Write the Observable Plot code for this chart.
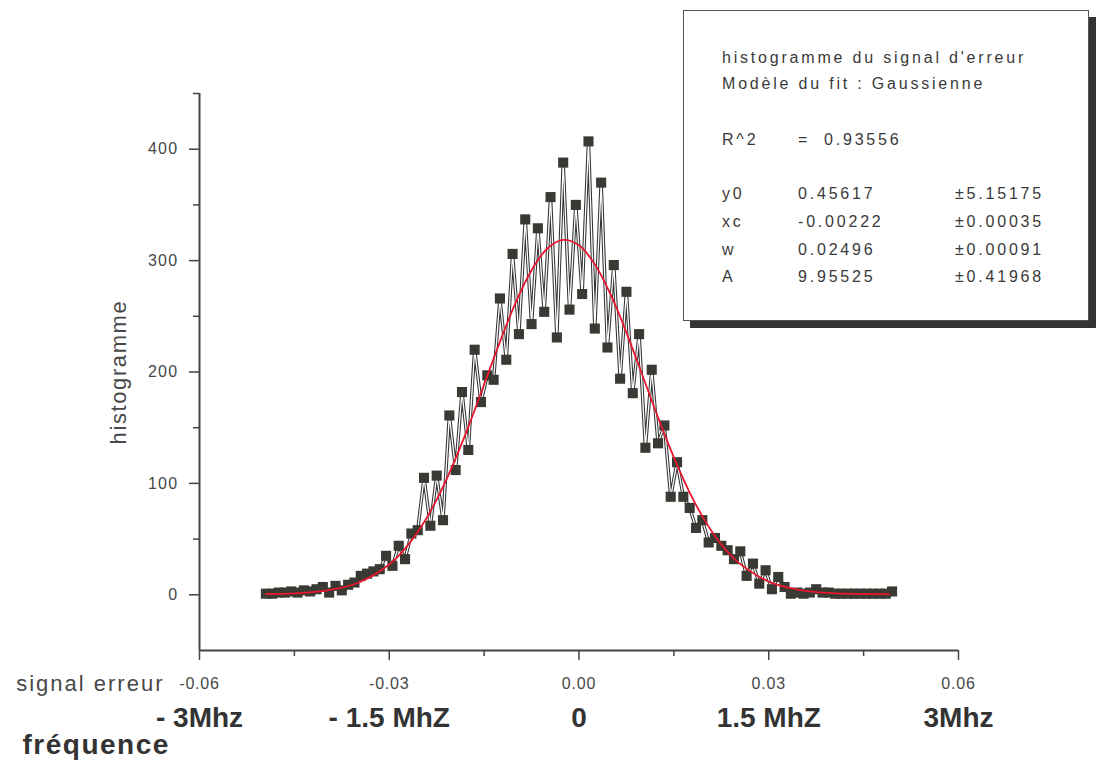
<!DOCTYPE html>
<html><head><meta charset="utf-8">
<script src="https://cdn.jsdelivr.net/npm/d3@7"></script>
<script src="https://cdn.jsdelivr.net/npm/@observablehq/plot@0.6"></script>
<style>
body{margin:0;background:#fff;}
#wrap{position:relative;width:1101px;height:760px;overflow:hidden;font-family:"Liberation Sans",Arial,sans-serif;}
#legend{position:absolute;left:683px;top:10px;width:404px;height:309px;background:#fff;border:1px solid #555;box-shadow:7px 7px 0 #333;}
.lt{position:absolute;font-size:16px;line-height:18px;letter-spacing:2.8px;color:#3a3a3a;white-space:nowrap;}
</style></head><body><div id="wrap"><div id="chart"></div></div>
<script>
// histogram bin centres (signal erreur)
const xBins = [-0.0495,-0.0485,-0.0475,-0.0465,-0.0455,-0.0445,-0.0435,-0.0425,-0.0415,-0.0405,
-0.0395,-0.0385,-0.0375,-0.0365,-0.0355,-0.0345,-0.0335,-0.0325,-0.0315,-0.0305,
-0.0295,-0.0285,-0.0275,-0.0265,-0.0255,-0.0245,-0.0235,-0.0225,-0.0215,-0.0205,
-0.0195,-0.0185,-0.0175,-0.0165,-0.0155,-0.0145,-0.0135,-0.0125,-0.0115,-0.0105,
-0.0095,-0.0085,-0.0075,-0.0065,-0.0055,-0.0045,-0.0035,-0.0025,-0.0015,-0.0005,
0.0005,0.0015,0.0025,0.0035,0.0045,0.0055,0.0065,0.0075,0.0085,0.0095,
0.0105,0.0115,0.0125,0.0135,0.0145,0.0155,0.0165,0.0175,0.0185,0.0195,
0.0205,0.0215,0.0225,0.0235,0.0245,0.0255,0.0265,0.0275,0.0285,0.0295,
0.0305,0.0315,0.0325,0.0335,0.0345,0.0355,0.0365,0.0375,0.0385,0.0395,
0.0405,0.0415,0.0425,0.0435,0.0445,0.0455,0.0465,0.0475,0.0485,0.0495];
// histogram counts
const counts = [1,1,2,2,3,2,4,3,5,7,
2,8,4,9,11,17,19,21,23,35,
26,44,32,55,58,105,62,107,67,161,
112,182,130,220,173,197,193,266,211,306,
234,337,243,329,254,357,231,388,256,350,
270,407,239,370,222,296,194,272,181,234,
132,202,136,152,88,119,88,78,60,67,
47,51,44,40,32,39,17,28,10,22,
5,16,7,1,2,1,2,5,2,2,
1,1,1,1,1,1,1,1,1,3];
// Gaussian fit curve
const fitX = [-0.0495,-0.045,-0.04,-0.035,-0.03,-0.0275,-0.025,-0.0225,-0.02,-0.0175,-0.015,-0.0125,-0.01,-0.0075,-0.005,-0.0025,0,0.0025,0.005,0.0075,0.01,0.0125,0.015,0.0175,0.02,0.0225,0.025,0.03,0.035,0.04,0.045,0.049];
const fitY = [0.7,1.35,3.72,10.57,27.18,41.4,60.59,85.4,115.8,150.8,188.8,227.1,262.5,291.4,310.9,318.6,313.7,296.7,269.6,235.4,197.5,159.2,123.3,91.8,65.7,45.2,29.96,11.8,4.19,1.5,0.71,0.52];
// axes
const xTicks = [-0.06,-0.03,0,0.03,0.06];
const xTickLabels = ["-0.06","-0.03","0.00","0.03","0.06"];
const xMinorTicks = [-0.045,-0.015,0.015,0.045];
const yTicks = [0,100,200,300,400];
const yTickLabels = ["0","100","200","300","400"];
const yMinorTicks = [50,150,250,350,450];
const freqLabels = ["- 3Mhz","- 1.5 MhZ","0","1.5 MhZ","3Mhz"];
const xAxisTitle = "signal erreur";
const freqTitle = "fréquence";
const yAxisTitle = "histogramme";
// legend box
const legendTitle = ["histogramme du signal d'erreur","Modèle du fit : Gaussienne"];
const legendR2 = ["R^2","=","0.93556"];
const legendParams = ["y0","xc","w","A"];
const legendValues = ["0.45617","-0.00222","0.02496","9.95525"];
const legendErrors = ["±5.15175","±0.00035","±0.00091","±0.41968"];

const data = xBins.map((x,i)=>({x, y: counts[i]}));
const fit = fitX.map((x,i)=>({x, y: fitY[i]}));
const axisColor = "#444";
const textColor = "#3a3a3a";
const tickColor = "#484848";

const chart = Plot.plot({
  width:1101, height:760,
  marginLeft:199, marginRight:143, marginTop:93, marginBottom:110,
  style:{fontFamily:'"Liberation Sans", Arial, sans-serif', color:textColor, background:"#fff", overflow:"visible"},
  x:{domain:[-0.06,0.06]},
  y:{domain:[-50,450]},
  marks:[
    Plot.axisY({ticks:yMinorTicks, tickSize:6, tickFormat:()=> "", label:null, stroke:axisColor, strokeWidth:1.5}),
    Plot.axisY({ticks:yTicks, tickSize:10, tickFormat:()=> "", label:null, stroke:axisColor, strokeWidth:1.5}),
    Plot.axisX({ticks:xMinorTicks, tickSize:6, tickFormat:()=> "", label:null, stroke:axisColor, strokeWidth:1.5}),
    Plot.axisX({ticks:xTicks, tickSize:10, tickFormat:()=> "", label:null, stroke:axisColor, strokeWidth:1.5}),
    Plot.ruleX([-0.06], {y1:-50, y2:450, stroke:axisColor, strokeWidth:2}),
    Plot.ruleY([-50], {x1:-0.06, x2:0.06, stroke:axisColor, strokeWidth:2}),
    // tick labels
    Plot.text(yTickLabels, {y:(d,i)=>yTicks[i], text:d=>d, frameAnchor:"left", textAnchor:"end", dx:-21, fontSize:16, fill:tickColor}),
    Plot.text(xTickLabels, {x:(d,i)=>xTicks[i], text:d=>d, frameAnchor:"bottom", lineAnchor:"middle", dy:33, fontSize:16, fill:tickColor}),
    // data
    Plot.line(data, {x:"x", y:"y", stroke:"#333", strokeWidth:3.4}),
    Plot.line(data, {x:"x", y:"y", stroke:"#fff", strokeWidth:1.3}),
    Plot.dot(data, {x:"x", y:"y", symbol:"square", r:5.7, fill:"#3a3a35", stroke:"none"}),
    Plot.line(fit, {x:"x", y:"y", stroke:"#e8172d", strokeWidth:1.8, curve:"catmull-rom"}),
    // titles
    Plot.text(freqLabels, {x:(d,i)=>xTicks[i], text:d=>d, frameAnchor:"bottom", lineAnchor:"middle", dy:68, fontSize:28, fontWeight:"bold", fill:"#333"}),
    Plot.text([xAxisTitle], {text:d=>d, frameAnchor:"bottom-left", textAnchor:"end", lineAnchor:"middle", dx:-35, dy:33, fontSize:22, fill:tickColor}),
    Plot.text([freqTitle], {text:d=>d, frameAnchor:"bottom-left", textAnchor:"start", lineAnchor:"middle", dx:-177, dy:95, fontSize:28, fontWeight:"bold", fill:"#333"}),
    Plot.text([yAxisTitle], {text:d=>d, frameAnchor:"left", textAnchor:"middle", rotate:-90, dx:-81, fontSize:22, fill:tickColor})
  ]
});
document.getElementById("chart").appendChild(chart);
// letter spacing tweaks (matched by text content)
const ySet = new Set(yTickLabels), xSet = new Set(xTickLabels);
chart.querySelectorAll("text").forEach(t=>{
  const s = t.textContent;
  const bold = (t.closest("g") && t.closest("g").getAttribute("font-weight")) === "bold";
  if (s === xAxisTitle) t.style.letterSpacing = "2px";
  else if (s === yAxisTitle) t.style.letterSpacing = "1.6px";
  else if (s === freqTitle) t.style.letterSpacing = "1.5px";
  else if (!bold && ySet.has(s)) t.style.letterSpacing = "1.3px";
  else if (!bold && xSet.has(s)) t.style.letterSpacing = "0.8px";
});

// legend box
const wrap = document.getElementById("wrap");
const box = document.createElement("div"); box.id="legend"; wrap.appendChild(box);
function addText(str, x, cy){
  const d = document.createElement("div"); d.className="lt"; d.textContent=str;
  d.style.left = x+"px"; d.style.top = (cy-9)+"px"; wrap.appendChild(d);
}
addText(legendTitle[0], 722, 58);
addText(legendTitle[1], 722, 84);
addText(legendR2[0], 722, 140);
addText(legendR2[1], 798, 140);
addText(legendR2[2], 824, 140);
const rowsY = [194,222,250,277];
legendParams.forEach((p,i)=>{
  addText(p, 722, rowsY[i]);
  addText(legendValues[i], 798, rowsY[i]);
  addText(legendErrors[i], 955, rowsY[i]);
});
</script></body></html>
